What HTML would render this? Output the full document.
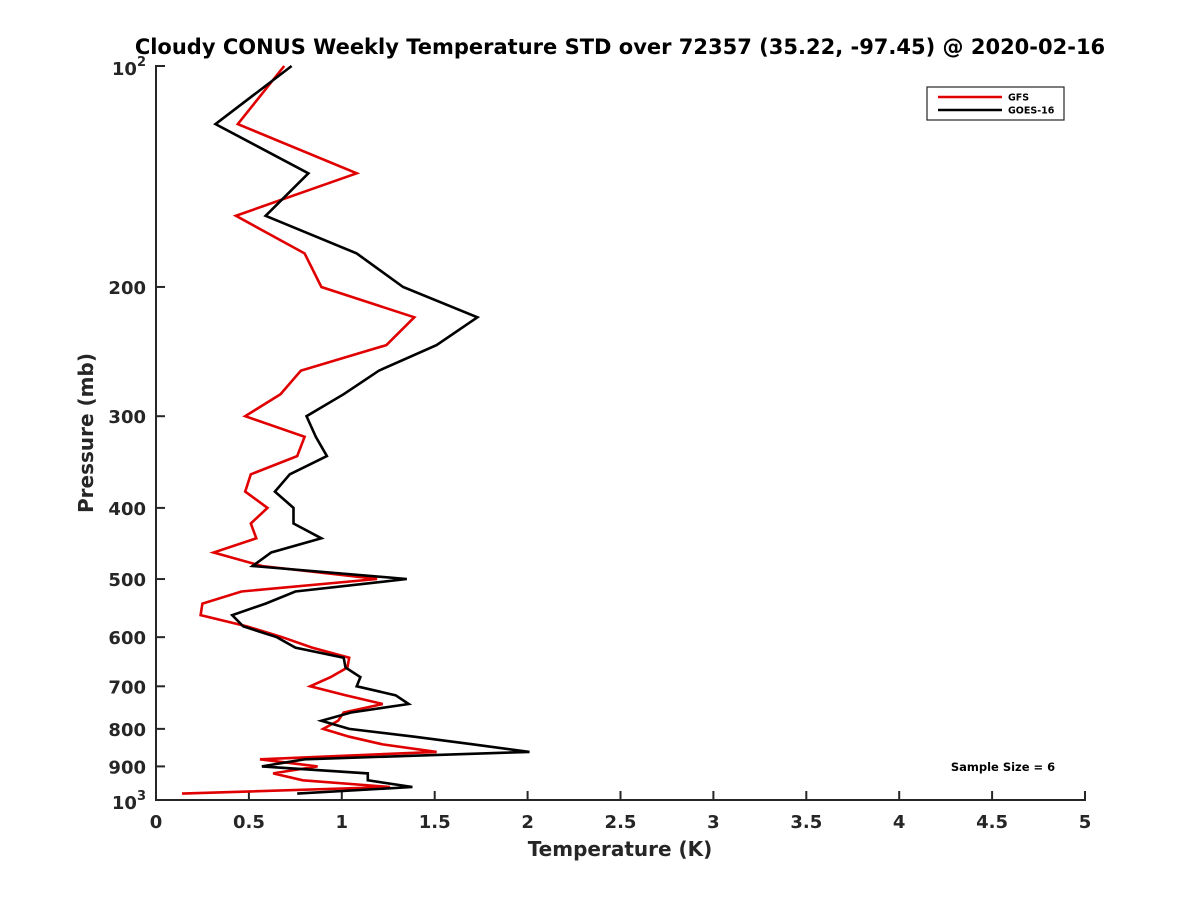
<!DOCTYPE html>
<html><head><meta charset="utf-8"><style>
html,body{margin:0;padding:0;background:#fff;}
svg{display:block;font-family:"DejaVu Sans","Liberation Sans",sans-serif;font-weight:bold;}
</style></head><body>
<svg id="chart" width="1200" height="900" viewBox="0 0 1200 900" xmlns="http://www.w3.org/2000/svg">
<rect width="1200" height="900" fill="#fff"/>
<text x="620" y="54" text-anchor="middle" font-size="21" fill="#000">Cloudy CONUS Weekly Temperature STD over 72357 (35.22, -97.45) @ 2020-02-16</text>
<g id="axes"></g>
<g id="series"></g>
<text x="620" y="856" text-anchor="middle" font-size="20" fill="#262626">Temperature (K)</text>
<text transform="translate(93,433) rotate(-90)" text-anchor="middle" font-size="20" fill="#262626">Pressure (mb)</text>
<g>
<rect x="927" y="87" width="137" height="33" fill="#fff" stroke="#262626" stroke-width="1.2"/>
<line x1="938" y1="97" x2="1002" y2="97" stroke="#e00000" stroke-width="2.5"/>
<text x="1008" y="100.5" font-size="9.5" fill="#000">GFS</text>
<line x1="938" y1="110" x2="1002" y2="110" stroke="#000" stroke-width="2.5"/>
<text x="1008" y="113.5" font-size="9.5" fill="#000">GOES-16</text>
</g>
<text x="1003" y="771" text-anchor="middle" font-size="11.5" fill="#000">Sample Size = 6</text>
</svg>
<script>
const pressureLevels = [100,120,140,160,180,200,220,240,260,280,300,320,340,360,380,400,420,440,460,480,500,520,540,560,580,600,620,640,660,680,700,720,740,760,780,800,820,840,860,880,900,920,940,960,980];
const gfsStd = [0.69,0.44,1.08,0.43,0.80,0.89,1.39,1.24,0.78,0.67,0.48,0.80,0.76,0.51,0.48,0.60,0.51,0.54,0.31,0.57,1.19,0.46,0.25,0.24,0.49,0.68,0.84,1.04,1.03,0.94,0.83,1.02,1.22,1.01,0.98,0.90,1.04,1.22,1.51,0.56,0.87,0.63,0.79,1.26,0.14];
const goesStd = [0.73,0.32,0.82,0.59,1.08,1.33,1.73,1.51,1.20,1.01,0.81,0.86,0.92,0.72,0.64,0.74,0.74,0.89,0.62,0.52,1.35,0.75,0.59,0.41,0.47,0.65,0.75,1.01,1.02,1.10,1.08,1.29,1.36,1.05,0.89,1.04,1.39,1.71,2.01,0.80,0.57,1.14,1.14,1.38,0.76];
const xTicks = [0,0.5,1,1.5,2,2.5,3,3.5,4,4.5,5];
const yTicks = [100,200,300,400,500,600,700,800,900,1000];

const X0=156,X1=1085,Y0=66,Y1=800;
function xs(v){return X0+(v-0)/(5-0)*(X1-X0);}
function ys(p){return Y0+(Math.log10(p)-2)*(Y1-Y0);}
const NS="http://www.w3.org/2000/svg";
function mk(tag,attrs){const e=document.createElementNS(NS,tag);for(const k in attrs)e.setAttribute(k,attrs[k]);return e;}
const axes=document.getElementById('axes');
const ax=mk('path',{d:`M${X0+9},${Y0} H${X0} V${Y1} H${X1} V${Y1-9}`,fill:'none',stroke:'#262626','stroke-width':2});


axes.appendChild(ax);
xTicks.forEach(t=>{
  const x=xs(t);
  const l=mk('line',{x1:x,y1:Y1,x2:x,y2:Y1-9,stroke:'#262626','stroke-width':2});
  
  
  axes.appendChild(l);
  const tx=mk('text',{x:x,y:Y1+28,'text-anchor':'middle','font-size':18,fill:'#262626'});
  
  
  tx.textContent=String(t);
  axes.appendChild(tx);
});
yTicks.forEach(p=>{
  const y=ys(p);
  const l=mk('line',{x1:X0,y1:y,x2:X0+9,y2:y,stroke:'#262626','stroke-width':2});
  
  
  axes.appendChild(l);
  const tx=mk('text',{x:X0-10,y:y+7,'text-anchor':'end','font-size':18,fill:'#262626'});
  
  
  if(p===100||p===1000){
    tx.setAttribute('y',y+9);
    tx.textContent='10';
    const s=mk('tspan',{dy:-9,'font-size':13});
    s.textContent=p===100?'2':'3';
    tx.appendChild(s);
  } else tx.textContent=String(p);
  axes.appendChild(tx);
});
const sg=document.getElementById('series');
function line(vals,color,name){
  const d=vals.map((v,i)=>(i?'L':'M')+xs(v).toFixed(1)+','+ys(pressureLevels[i]).toFixed(1)).join(' ');
  const pth=mk('path',{d:d,fill:'none',stroke:color,'stroke-width':2.6,'stroke-linejoin':'miter'});
  
  
  sg.appendChild(pth);
}
line(gfsStd,'#e00000','gfs-line');
line(goesStd,'#000000','goes16-line');
</script>
</body></html>
